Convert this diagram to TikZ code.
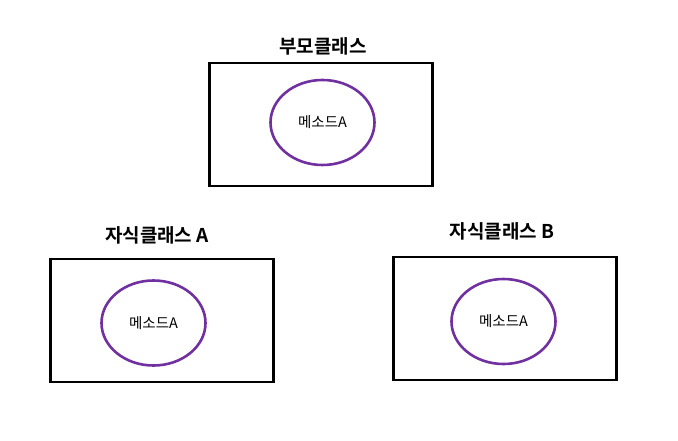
\documentclass[tikz,border=0pt]{standalone}
\usepackage{fontspec}
\usetikzlibrary{shapes.geometric}
\setmainfont{Noto Sans CJK KR}
\newfontfamily\krbold{Noto Sans CJK KR Bold}
\definecolor{ovpurple}{HTML}{7030A0}
\begin{document}
\begin{tikzpicture}[x=1pt,y=-1pt,
  classbox/.style={draw=black,line width=2.8pt,minimum width=223pt,minimum height=123pt,inner sep=0pt},
  methodoval/.style={draw=ovpurple,line width=2.6pt,ellipse,minimum width=104pt,minimum height=85pt,inner sep=0pt,font=\fontsize{14.5}{17}\selectfont},
  titletext/.style={font=\krbold\fontsize{19}{22}\selectfont,inner sep=0pt}]
\useasboundingbox (0,0) rectangle (678,441);
\node[classbox] (parent) at (321,124.5) {};
\node[methodoval] (pm) at (322.5,122.5) {메소드A};
\node[titletext] (pt) at (323,46) {부모클래스};
\node[classbox] (childA) at (162,320.5) {};
\node[methodoval] (am) at (153.5,323) {메소드A};
\node[titletext] (at) at (157,235) {자식클래스 A};
\node[classbox] (childB) at (505,318.5) {};
\node[methodoval] (bm) at (503.5,321.5) {메소드A};
\node[titletext] (bt) at (502,231) {자식클래스 B};
\end{tikzpicture}
\end{document}
